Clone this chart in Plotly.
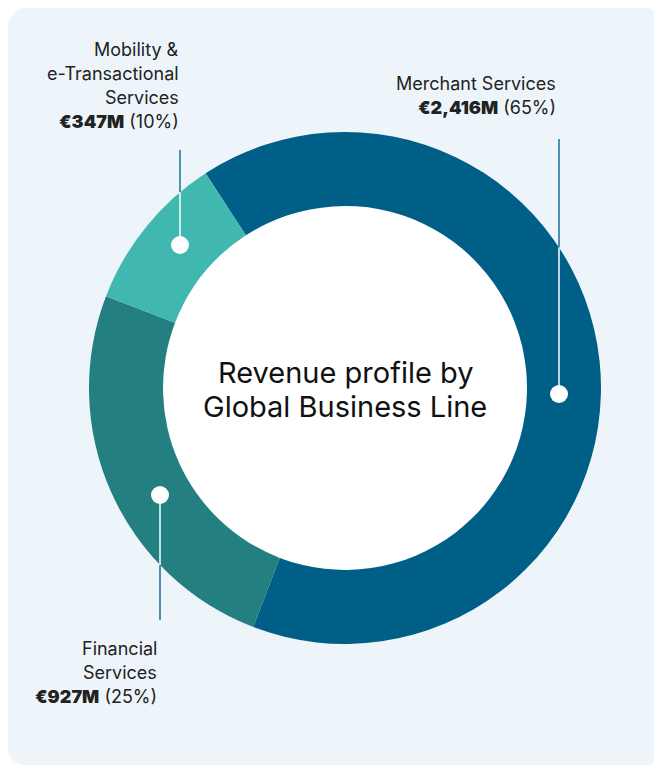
import math
import plotly.graph_objects as go

W, H = 662, 765
OFF = 8  # page body margin in the browser

# ---- data ----
segments = ["Merchant Services", "Financial Services", "Mobility & e-Transactional Services"]
revenue_m = [2416, 927, 347]
shares_pct = [65, 25, 10]
colors = ["#005F86", "#247F80", "#40B7AF"]

label_lines = [
    ["Merchant Services"],
    ["Financial", "Services"],
    ["Mobility &", "e-Transactional", "Services"],
]
value_labels = ["€2,416M", "€927M", "€347M"]

# ---- geometry (pixels in the page) ----
CX, CY, R_OUT, R_IN = 345, 388, 256, 182
hole = R_IN / R_OUT

def px(x):
    return (x - OFF) / W

def py(y):
    return 1 - (y - OFF) / H

fig = go.Figure()
fig.add_trace(go.Pie(
    labels=segments,
    values=shares_pct,
    customdata=revenue_m,
    sort=False,
    direction="clockwise",
    rotation=-33,
    hole=hole,
    marker=dict(colors=colors, line=dict(width=0)),
    textinfo="none",
    hovertemplate="%{label}<br>€%{customdata}M (%{value}%)<extra></extra>",
    showlegend=False,
    domain=dict(x=[px(CX - R_OUT), px(CX + R_OUT)],
                y=[py(CY + R_OUT), py(CY - R_OUT)]),
))

shapes = []
# rounded background panel
x0, y0, x1, y1, r = 6, 6, 664, 768, 30
path = (
    f"M {px(x0 + r)},{py(y0)} L {px(x1 - r)},{py(y0)} "
    f"Q {px(x1)},{py(y0)} {px(x1)},{py(y0 + r)} "
    f"L {px(x1)},{py(y1 - r)} Q {px(x1)},{py(y1)} {px(x1 - r)},{py(y1)} "
    f"L {px(x0 + r)},{py(y1)} Q {px(x0)},{py(y1)} {px(x0)},{py(y1 - r)} "
    f"L {px(x0)},{py(y0 + r)} Q {px(x0)},{py(y0)} {px(x0 + r)},{py(y0)} Z"
)
shapes.append(dict(type="path", path=path, xref="paper", yref="paper",
                   fillcolor="#EEF5FA", line=dict(width=0), layer="below"))
# white donut centre
rh = R_IN + 2
shapes.append(dict(type="circle", xref="paper", yref="paper", layer="below",
                   x0=px(CX - rh), x1=px(CX + rh), y0=py(CY + rh), y1=py(CY - rh),
                   fillcolor="white", line=dict(width=0)))

# leader lines: (line x, label-end y, dot y)
leaders = [
    (559, 139, 394),   # Merchant
    (160, 620, 495),   # Financial
    (180, 150, 245),   # Mobility
]
for lx, ly, dy in leaders:
    off = math.sqrt(R_OUT ** 2 - (lx - CX) ** 2)
    edge_y = CY - off if ly < dy else CY + off
    shapes.append(dict(type="line", xref="paper", yref="paper",
                       x0=px(lx), x1=px(lx), y0=py(ly), y1=py(edge_y),
                       line=dict(color="#1A6E98", width=1.5)))
    shapes.append(dict(type="line", xref="paper", yref="paper",
                       x0=px(lx), x1=px(lx), y0=py(edge_y), y1=py(dy),
                       line=dict(color="white", width=1.5)))
    rd = 9
    shapes.append(dict(type="circle", xref="paper", yref="paper",
                       x0=px(lx - rd), x1=px(lx + rd), y0=py(dy + rd), y1=py(dy - rd),
                       fillcolor="white", line=dict(width=0)))

annotations = []
font_lbl = dict(family="Inter, Roboto, sans-serif", size=18, color="#222222")
# label blocks: (right x, first line center y)
label_pos = [(558, 84), (159, 648), (181, 49)]
LINE = 24
for i, (rx, ty) in enumerate(label_pos):
    lines = label_lines[i] + [
        f'<span style="font-weight:900">{value_labels[i]}</span> ({shares_pct[i]}%)'
    ]
    for j, t in enumerate(lines):
        annotations.append(dict(text=t, x=px(rx), y=py(ty + j * LINE),
                                xref="paper", yref="paper", xanchor="right",
                                yanchor="middle", showarrow=False, font=font_lbl,
                                align="right"))

font_c = dict(family="Inter, Roboto, sans-serif", size=29, color="#111111")
for t, yc in [("Revenue profile by", 372), ("Global Business Line", 406)]:
    annotations.append(dict(text=t, x=px(CX), y=py(yc), xref="paper", yref="paper",
                            xanchor="center", yanchor="middle", showarrow=False,
                            font=font_c, align="center"))

fig.update_layout(
    width=W, height=H,
    margin=dict(l=0, r=0, t=0, b=0),
    paper_bgcolor="white",
    plot_bgcolor="white",
    shapes=shapes,
    annotations=annotations,
)

fig.write_html("out.html")
